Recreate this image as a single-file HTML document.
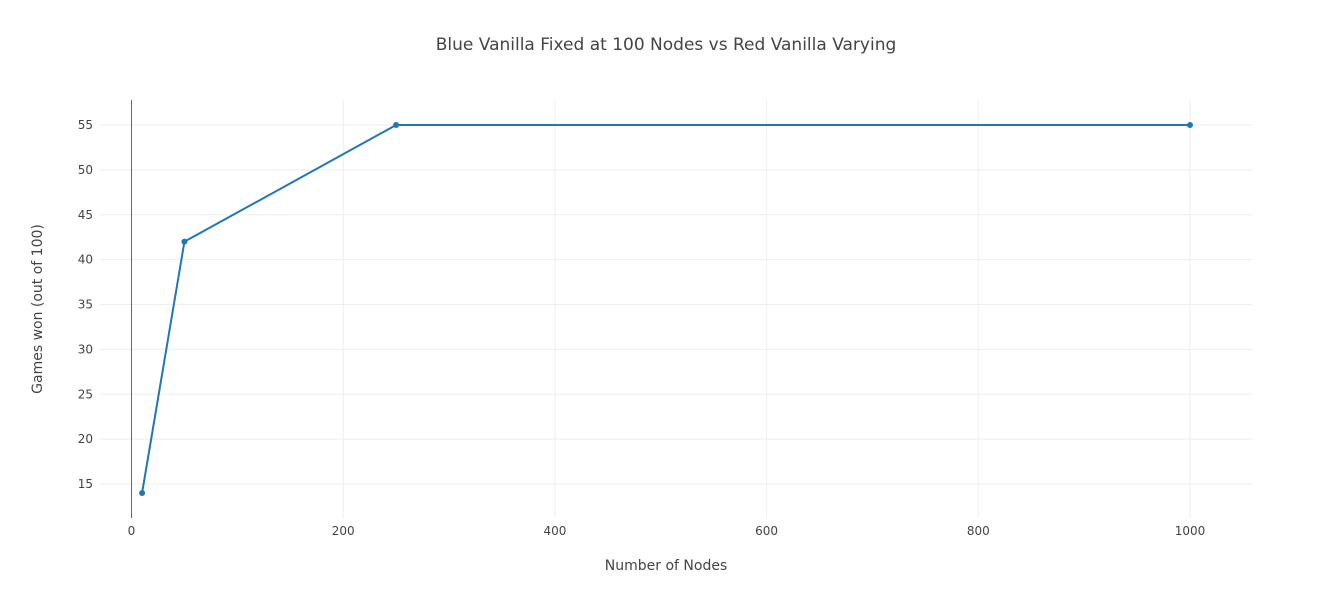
<!DOCTYPE html>
<html><head><meta charset="utf-8">
<style>
html,body{margin:0;padding:0;background:#fff;}
svg{display:block;font-family:"DejaVu Sans","Liberation Sans",sans-serif;}
</style></head>
<body>
<svg id="chart" width="1332" height="598">
<text x="666" y="50" text-anchor="middle" font-size="17" fill="#444">Blue Vanilla Fixed at 100 Nodes vs Red Vanilla Varying</text>
<g id="grid"></g>
<g id="axes"></g>
<g id="series"></g>
<text x="666" y="570" text-anchor="middle" font-size="14" fill="#444">Number of Nodes</text>
<text transform="translate(42,309) rotate(-90)" text-anchor="middle" font-size="14" fill="#444">Games won (out of 100)</text>
</svg>
<script>
const xValues = [10, 50, 250, 1000];
const yValues = [14, 42, 55, 55];
const xTicks = [0, 200, 400, 600, 800, 1000];
const yTicks = [15, 20, 25, 30, 35, 40, 45, 50, 55];

const ns = "http://www.w3.org/2000/svg";
const L = 100, R = 1252, T = 100, B = 518;
const x0 = 131.5, xs = (1190 - 131.5) / 1000;
const y0 = 484, ys = (484 - 125) / 40;
function X(v){ return x0 + v * xs; }
function Y(v){ return y0 - (v - 15) * ys; }
function mk(tag, attrs, parent){
  const e = document.createElementNS(ns, tag);
  for (const k in attrs) e.setAttribute(k, attrs[k]);
  parent.appendChild(e); return e;
}
const grid = document.getElementById('grid');
const axes = document.getElementById('axes');
const series = document.getElementById('series');
xTicks.forEach(t => {
  if (t !== 0) {
    const g = mk('line', {x1:X(t), x2:X(t), y1:T, y2:B, stroke:'#eee', 'stroke-width':1}, grid);
    
    
  }
  const lbl = mk('text', {x:X(t), y:B+17, 'text-anchor':'middle', 'font-size':12, fill:'#444'}, axes);
  lbl.textContent = t;
  
  
});
yTicks.forEach(t => {
  const g = mk('line', {x1:L, x2:R, y1:Y(t), y2:Y(t), stroke:'#eee', 'stroke-width':1}, grid);
  
  
  const lbl = mk('text', {x:L-7, y:Y(t)+4, 'text-anchor':'end', 'font-size':12, fill:'#444'}, axes);
  lbl.textContent = t;
  
  
});
const zl = mk('line', {x1:X(0), x2:X(0), y1:T, y2:B, stroke:'#666', 'stroke-width':1}, axes);


const pts = xValues.map((v,i) => X(v) + ',' + Y(yValues[i])).join(' ');
const pl = mk('polyline', {points:pts, fill:'none', stroke:'#1f77b4', 'stroke-width':2}, series);


xValues.forEach((v,i) => {
  const c = mk('circle', {cx:X(v), cy:Y(yValues[i]), r:3, fill:'#1f77b4'}, series);
  
  
});
</script>
</body></html>
